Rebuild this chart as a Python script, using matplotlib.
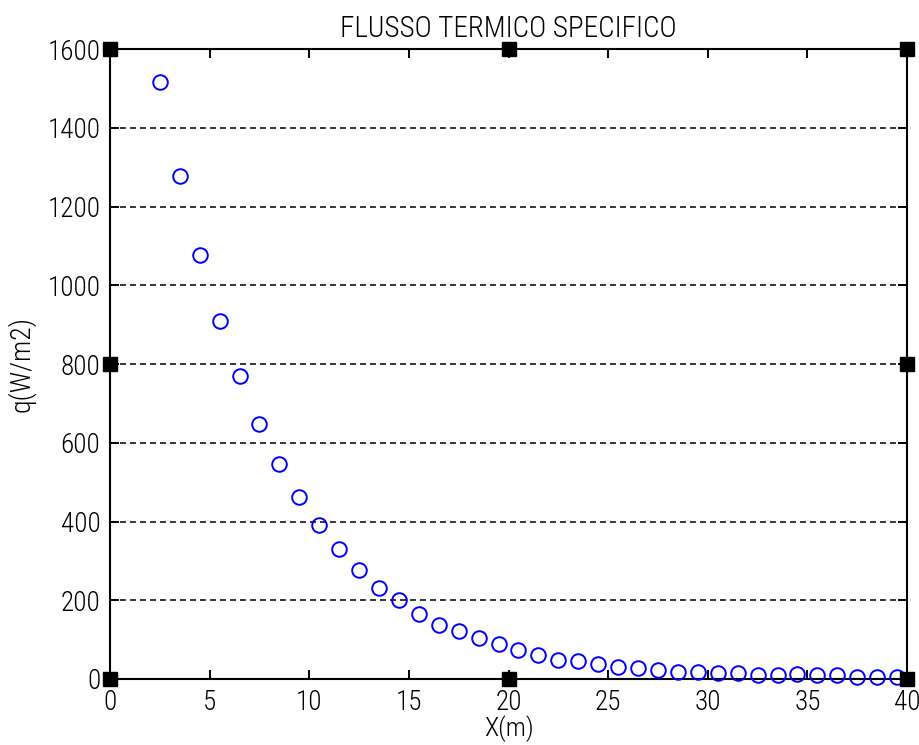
import matplotlib
matplotlib.use("Agg")
import matplotlib.pyplot as plt
from matplotlib import font_manager as fm
import os

# Heat flux along the plate
x_m = [2.5, 3.5, 4.5, 5.5, 6.5, 7.5, 8.5, 9.5, 10.5, 11.5,
       12.5, 13.5, 14.5, 15.5, 16.5, 17.5, 18.5, 19.5, 20.5, 21.5,
       22.5, 23.5, 24.5, 25.5, 26.5, 27.5, 28.5, 29.5, 30.5, 31.5,
       32.5, 33.5, 34.5, 35.5, 36.5, 37.5, 38.5, 39.5]
q_wm2 = [1515, 1277, 1077, 908, 769, 647, 545, 461, 391, 330,
         278, 231, 200, 166, 138, 121, 103, 88, 73, 60,
         49, 45, 38, 31, 27, 23, 19, 19, 14, 15,
         11, 11, 12, 11, 11, 6, 6, 6]

x_ticks = [0, 5, 10, 15, 20, 25, 30, 35, 40]
y_ticks = [0, 200, 400, 600, 800, 1000, 1200, 1400, 1600]


def pick_font():
    """Prefer a narrow, light sans face; fall back to Liberation Sans."""
    wanted = ['LiberationSansNarrow-Regular', 'NotoSans-Condensed.',
              'RobotoCondensed-Light.', 'Roboto_Condensed-Light.',
              'RobotoCondensed-Regular', 'Roboto_Condensed-Regular']
    files = [f.fname for f in fm.fontManager.ttflist]
    for key in wanted:
        for fn in files:
            if key.lower() in os.path.basename(fn).lower():
                return fm.FontProperties(fname=fn), 20.5
    return fm.FontProperties(family='Liberation Sans'), 16.5


fp, fsize = pick_font()
plt.rcParams['lines.scale_dashes'] = False

fig = plt.figure(figsize=(9.19, 7.45), dpi=100)
ax = fig.add_axes([0.1197, 0.0886, 0.8673, 0.8456])

ax.plot(x_m, q_wm2, linestyle='none', marker='o', markersize=10.5,
        markerfacecolor='none', markeredgecolor='#0000ff',
        markeredgewidth=1.4, clip_on=False, zorder=4)

ax.set_xlim(x_ticks[0], x_ticks[-1])
ax.set_ylim(y_ticks[0], y_ticks[-1])
ax.set_xticks(x_ticks)
ax.set_yticks(y_ticks)

ax.yaxis.grid(True, color='black', linewidth=1.1, linestyle=(0, (4.3, 2.9)))
ax.xaxis.grid(False)
ax.set_axisbelow(True)

for s in ax.spines.values():
    s.set_linewidth(1.5)
    s.set_color('black')

ax.tick_params(direction='in', length=6.5, width=1.4, top=True, right=True,
               pad=7, colors='black')
for lab in ax.get_xticklabels() + ax.get_yticklabels():
    lab.set_fontproperties(fp)
    lab.set_fontsize(fsize - 1.0)

# corner and mid-edge square markers on the axes frame
xl = ax.get_xlim()
yl = ax.get_ylim()
xmid = (xl[0] + xl[1]) / 2
ymid = (yl[0] + yl[1]) / 2
sq_x = [xl[0], xl[1], xl[0], xl[1], xmid, xmid, xl[0], xl[1]]
sq_y = [yl[0], yl[0], yl[1], yl[1], yl[0], yl[1], ymid, ymid]
ax.plot(sq_x, sq_y, linestyle='none', marker='s', markersize=9.5,
        color='black', clip_on=False, zorder=5)

ax.set_title('FLUSSO TERMICO SPECIFICO', fontproperties=fp,
             fontsize=fsize + 0.5, pad=9)
ax.set_xlabel('X(m)', fontproperties=fp, fontsize=fsize - 1.5)
ax.xaxis.set_label_coords(0.5, -0.057)
ax.set_ylabel('q(W/m2)', fontproperties=fp, fontsize=fsize - 0.5)
ax.yaxis.set_label_coords(-0.093, 0.5)

fig.savefig('out.png', dpi=100, facecolor='white')
